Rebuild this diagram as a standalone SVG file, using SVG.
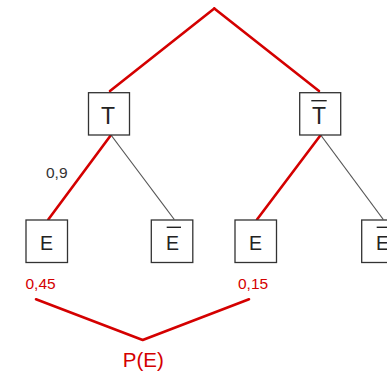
<svg xmlns="http://www.w3.org/2000/svg" width="387" height="375" viewBox="0 0 387 375">
<style>
.box{fill:#fff;stroke:#333;stroke-width:1.3}
.lbl{font-family:"Liberation Sans",Arial,sans-serif;fill:#222;text-anchor:middle}
.red{stroke:#d40000;stroke-width:2.6;fill:none;stroke-linecap:round;stroke-linejoin:round}
.gray{stroke:#555;stroke-width:1.2;fill:none}
.bar{stroke:#222;stroke-width:1.4}
.prob{font-family:"Liberation Sans",Arial,sans-serif;font-size:15.5px}
</style>
<rect width="387" height="375" fill="#fff"/>
<g id="connectors">
<line class="red" x1="214.3" y1="8.5" x2="110" y2="91"/>
<line class="red" x1="214.3" y1="8.5" x2="319" y2="91"/>
<line class="red" x1="111" y1="135" x2="48.3" y2="219.5"/>
<line class="gray" x1="111" y1="135" x2="174.3" y2="219.5"/>
<line class="red" x1="320.7" y1="135" x2="257" y2="219.5"/>
<line class="gray" x1="320.7" y1="135" x2="383.3" y2="219.5"/>
<polyline class="red" points="36,299.3 142.7,340 249,299.3"/>
</g>
<g id="node-T">
<rect class="box" x="88.5" y="92.7" width="41" height="42.3"/>
<text class="lbl" x="108" y="124" font-size="23">T</text>
</g>
<g id="node-Tbar">
<rect class="box" x="299.7" y="92.7" width="41" height="42.3"/>
<text class="lbl" x="319" y="124" font-size="23">T</text>
<line class="bar" x1="311.3" y1="100.7" x2="326.7" y2="100.7"/>
</g>
<g id="node-E1">
<rect class="box" x="26" y="220" width="41.5" height="42.5"/>
<text class="lbl" x="46.5" y="250" font-size="19.5">E</text>
</g>
<g id="node-Ebar1">
<rect class="box" x="151.3" y="220" width="41.5" height="42.5"/>
<text class="lbl" x="172.5" y="250" font-size="19.5">E</text>
<line class="bar" x1="166.7" y1="227.3" x2="181" y2="227.3"/>
</g>
<g id="node-E2">
<rect class="box" x="235" y="220" width="41.5" height="42.5"/>
<text class="lbl" x="255.5" y="250" font-size="19.5">E</text>
</g>
<g id="node-Ebar2">
<rect class="box" x="361.7" y="220" width="41.5" height="42.5"/>
<text class="lbl" x="382.5" y="250" font-size="19.5">E</text>
<line class="bar" x1="376.7" y1="227.3" x2="391" y2="227.3"/>
</g>
<g id="labels">
<text class="prob" x="46" y="178" fill="#333">0,9</text>
<text class="prob" x="25.5" y="289" fill="#d40000">0,45</text>
<text class="prob" x="238" y="289" fill="#d40000">0,15</text>
<text x="143.3" y="367" font-family="'Liberation Sans',Arial,sans-serif" font-size="20.5" fill="#d40000" text-anchor="middle">P(E)</text>
</g>
</svg>
